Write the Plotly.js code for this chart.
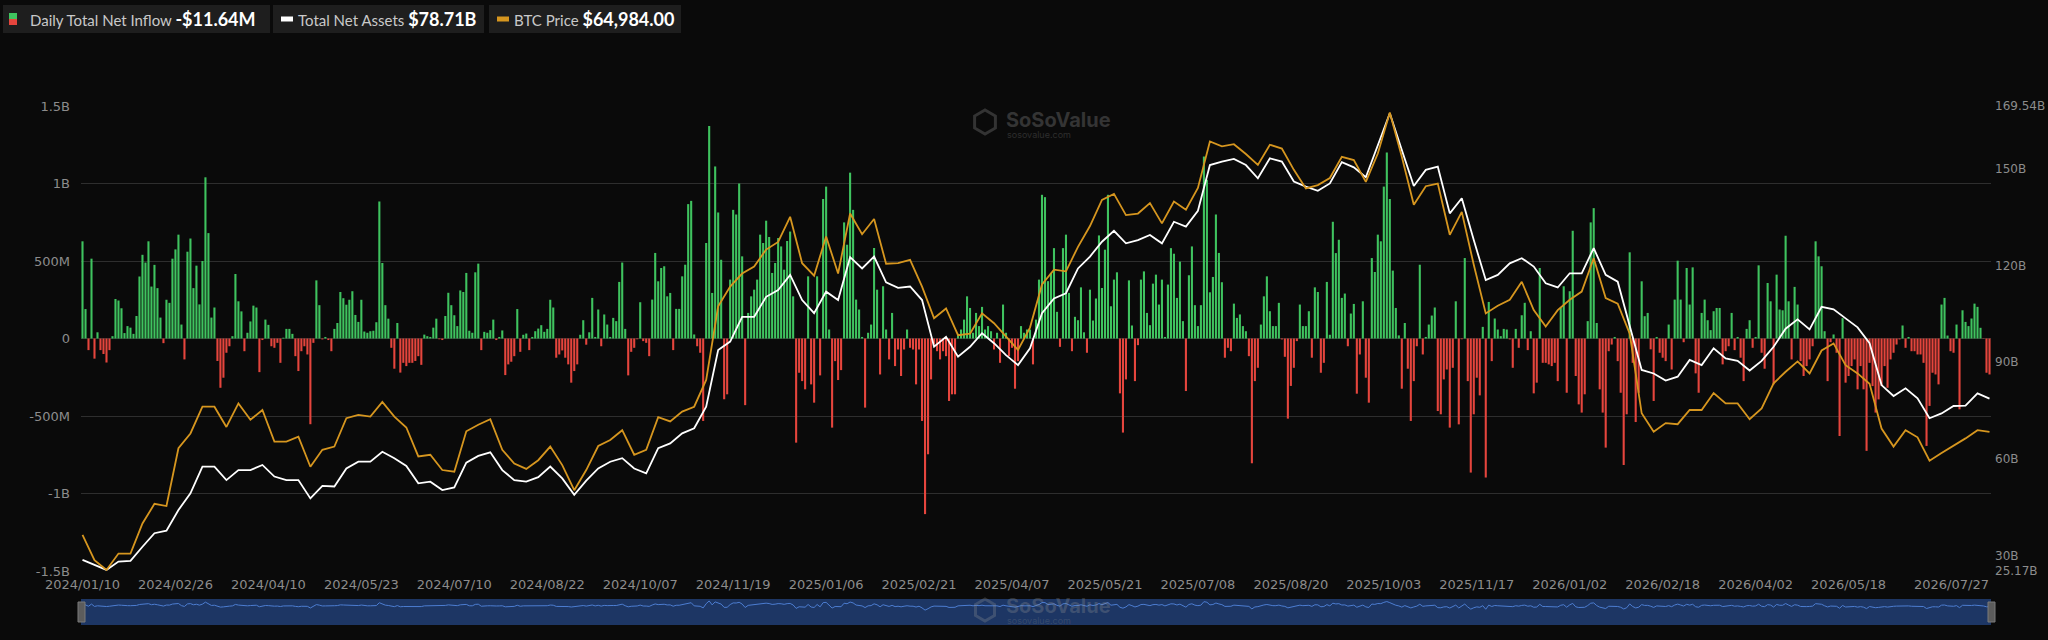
<!DOCTYPE html>
<html>
<head>
<meta charset="utf-8">
<script src="https://cdn.plot.ly/plotly-3.0.1.min.js"></script>
<style>
html,body{margin:0;padding:0;background:#0a0a0a;}
#chart{width:2048px;height:640px;}
</style>
</head>
<body>
<div id="chart"></div>
<script>
// ---------------- DATA ----------------
const firstDay = '2024/01/10';
const lastDay = '2026/07/27';
const marketHolidays = [
  '2024/01/15','2024/02/19','2024/03/29','2024/05/27','2024/06/19','2024/07/04','2024/09/02','2024/11/28','2024/12/25',
  '2025/01/01','2025/01/09','2025/01/20','2025/02/17','2025/04/18','2025/05/26','2025/06/19','2025/07/04','2025/09/01','2025/11/27','2025/12/25',
  '2026/01/01','2026/01/19','2026/02/16','2026/04/03','2026/05/25','2026/06/19','2026/07/03'
];
const tickLabels = ['2024/01/10','2024/02/26','2024/04/10','2024/05/23','2024/07/10','2024/08/22','2024/10/07','2024/11/19',
  '2025/01/06','2025/02/21','2025/04/07','2025/05/21','2025/07/08','2025/08/20','2025/10/03','2025/11/17',
  '2026/01/02','2026/02/18','2026/04/02','2026/05/18','2026/07/27'];

// Daily total net inflow, $M, one value per trading day
const inflow = [
627,190,-75,515,-130,40,-75,-100,-155,-75,
15,255,245,195,35,80,70,30,145,400,
540,490,627,335,475,325,135,-30,250,230,
515,575,670,90,-135,560,645,325,470,220,
500,1040,680,135,200,-145,-318,-253,-92,-50,
15,416,240,175,-82,37,110,212,200,-217,
-10,122,88,-50,-60,-28,-157,5,62,62,
30,-114,-210,-82,-50,-103,-553,-28,375,215,
-6,10,-10,-82,62,100,300,260,218,250,
305,152,107,250,45,37,47,50,105,884,
487,215,128,-60,-195,100,-220,-157,
-178,-157,-157,-145,-114,-170,25,15,10,70,
128,-5,-10,145,295,215,150,80,310,300,
423,50,37,427,483,-75,43,37,54,122,
-10,10,52,-236,-167,-150,-114,190,-86,24,
32,-75,10,47,64,86,43,62,250,200,
-124,-103,-77,-124,-167,-285,-210,-167,24,118,
-40,40,262,10,187,-50,155,90,10,133,
112,365,490,62,-238,-86,-60,-5,234,-17,
-28,-114,251,552,369,455,466,272,294,-75,
191,191,401,476,867,888,26,-50,-92,-532,
616,1371,294,1110,813,508,-392,-360,
380,830,800,1000,530,-430,165,272,315,380,
670,616,760,655,423,487,648,594,444,629,
690,272,-672,-221,-275,-328,401,-296,-414,401,
-238,900,980,58,-575,-146,-268,-204,749,605,
1070,830,251,187,10,-446,37,90,584,315,
-232,337,58,-135,165,-178,-71,-242,-71,58,
-60,-71,-296,-71,-532,-1133,-747,-264,-39,-82,
-135,-82,-114,-403,-360,-360,30,58,122,272,
197,37,165,80,204,58,80,47,-71,37,
-157,219,37,-114,-60,-324,-146,80,37,58,
58,-167,122,380,927,
912,370,423,583,172,-54,583,670,294,-82,
140,118,330,40,-92,315,116,258,665,326,
573,927,208,380,427,-354,-607,-264,375,84,
-275,-43,380,433,165,86,354,412,219,380,
10,348,583,547,262,496,112,-339,408,594,
215,80,215,1174,1024,298,397,800,552,363,
-124,-60,-82,225,133,155,80,47,-114,-805,
-275,-189,90,272,401,176,80,80,230,-6,
-118,-517,-306,-189,-17,219,80,80,176,-124,
330,300,-221,-157,365,24,753,551,637,262,
290,-50,161,223,-356,-103,240,
-253,-414,519,429,670,627,980,1200,900,438,
197,20,-324,100,-195,-532,-275,-50,476,-103,
10,90,148,200,-468,-489,-264,-200,-575,-189,
240,-554,-5,519,-275,-865,-489,-253,-367,75,
-897,236,-146,129,58,15,62,58,-6,-189,
62,-60,150,230,-75,47,-354,-285,455,-157,
-157,-167,-178,-157,-275,197,337,-350,305,695,
-242,-425,-478,-360,112,749,841,100,-328,-478,
-704,-82,-39,10,-146,-350,-816,-489,556,-157,
-539,-350,369,144,165,-70,-403,10,-92,-124,
-146,90,-200,251,502,251,
-24,455,219,459,-225,-350,165,251,118,54,
176,197,197,-167,-82,-50,165,-75,10,-124,
-275,62,118,-60,10,472,-92,-195,358,240,
-296,412,187,182,663,240,-135,333,219,-146,
-242,-178,-135,-50,627,530,466,47,-275,-24,
26,-92,-629,131,-285,-242,-178,-135,-328,-178,
-328,-725,-157,-307,-478,-393,-307,-178,-318,-135,
-92,-39,-6,84,-60,10,-82,-82,-103,-103,
-157,-693,-435,-221,-232,-296,219,262,19,-82,
-92,90,-457,182,107,80,129,225,204,69,
-2,-221,-232
];

// Total net assets, $B, every 4th trading day
const netAssets = [
28.6,27.0,25.5,28.1,28.3,32.7,36.9,37.7,44.1,49.3,
57.6,57.6,53.4,56.5,56.5,58.1,54.5,53.4,53.4,47.7,
51.6,51.4,57.0,59.1,59.1,62.2,60.2,57.8,52.4,52.9,
50.3,51.1,58.8,60.9,62.0,56.5,53.4,52.9,54.3,57.6,
53.9,48.8,53.2,57.0,59.1,60.2,57.0,55.5,63.3,64.8,
67.9,69.5,76.2,93.8,96.4,104.1,104.1,110.3,112.4,117.1,
109.3,105.2,111.9,109.3,122.6,119.1,122.8,114.8,113.1,113.5,
109.3,94.8,97.9,91.7,94.8,99.0,95.9,92.2,89.1,94.3,
105.2,109.8,111.4,119.1,122.8,127.4,130.8,126.9,127.9,129.5,
126.9,133.6,132.1,137.0,151.2,152.3,153.1,151.2,147.1,153.3,
152.3,146.1,144.5,143.2,145.5,152.1,150.5,147.4,157.4,167.3,
155.9,144.7,149.7,150.7,136.2,140.9,127.9,115.5,117.1,120.7,
122.3,119.7,114.5,113.2,117.6,117.6,125.4,117.1,115.0,101.0,
87.6,86.5,84.3,85.5,90.7,89.1,94.3,91.2,90.4,87.4,
90.4,94.8,100.4,103.3,100.2,107.2,106.4,103.6,100.8,95.9,
82.9,79.5,81.9,78.8,72.6,74.1,76.4,76.5,80.3,78.71
];

// BTC price, $, every 4th trading day
const btcPrice = [
46100,41500,39700,42700,42700,48200,51800,51400,62000,64700,
69600,69600,65900,70200,67200,69000,63200,63200,64100,58600,
61700,62300,67500,68100,67800,70500,67800,65800,60500,60800,
58000,57700,65100,66300,67300,61700,59200,58200,59800,62300,
58900,54300,58000,62400,63500,65300,60800,61700,67700,66900,
68700,69600,74500,88000,91600,94000,95300,98400,99800,104400,
95900,93600,100800,94000,105000,101200,104000,95800,95900,96500,
91600,85800,87600,82700,83000,86700,84900,82400,80000,84100,
92000,94700,94400,98900,102700,107500,108600,104700,105000,106900,
103200,107200,105700,109700,118200,117300,117700,115900,113900,117600,
116900,113000,109600,110200,111500,115400,114800,110800,116000,123500,
115400,106600,110000,110500,101100,105300,95600,86700,88100,89200,
92500,87300,84300,87300,89200,90700,96800,89500,88500,83000,
68400,65000,66600,66400,69000,69000,72100,70200,70200,67300,
69300,73900,76000,77900,75700,79900,81200,77200,75700,73800,
65600,62300,65300,64000,59700,61100,62400,63800,65300,64984
];

const leftTickVals = [-1500,-1000,-500,0,500,1000,1500];
const leftTickText = ['-1.5B','-1B','-500M','0','500M','1B','1.5B'];
const rightTickVals = [25.17,30,60,90,120,150,169.54];
const rightTickText = ['25.17B','30B','60B','90B','120B','150B','169.54B'];
const assetsRange = [25.17,169.54];
const btcRange = [39500,124700];

const legendInflowLabel = 'Daily Total Net Inflow', legendInflowValue = '-$11.64M';
const legendAssetsLabel = 'Total Net Assets', legendAssetsValue = '$78.71B';
const legendBtcLabel = 'BTC Price', legendBtcValue = '$64,984.00';

// ---------------- BUILD ----------------
function fmt(d){
  const m = String(d.getUTCMonth()+1).padStart(2,'0');
  const dd = String(d.getUTCDate()).padStart(2,'0');
  return d.getUTCFullYear()+'/'+m+'/'+dd;
}
function tradingDays(){
  const p = firstDay.split('/').map(Number), q = lastDay.split('/').map(Number);
  const d = new Date(Date.UTC(p[0],p[1]-1,p[2]));
  const end = Date.UTC(q[0],q[1]-1,q[2]);
  const out = [];
  while (d.getTime() <= end){
    const wd = d.getUTCDay(), s = fmt(d);
    if (wd !== 0 && wd !== 6 && marketHolidays.indexOf(s) < 0) out.push(s);
    d.setUTCDate(d.getUTCDate()+1);
  }
  return out;
}
const days = tradingDays();
const n = Math.min(days.length, inflow.length);
const barDays = days.slice(0, n);
const barVals = inflow.slice(0, n);
const lineDays = barDays.filter((_, i) => i % 4 === 0).slice(0, netAssets.length);

const GREEN = '#3fc35f', RED = '#e5453d', ORANGE = '#d6961f';
const W = 2048, H = 640, ML = 81, MR = 57, MT = 106, MB = 15;
const PW = W-ML-MR, PH = H-MT-MB;
const X = px => (px-ML)/PW;
const Y = py => (H-MB-py)/PH;
const plotRight = W-MR;

const traces = [
  {type:'bar', x:barDays, y:barVals, xaxis:'x', yaxis:'y',
   marker:{color:barVals.map(v => v >= 0 ? GREEN : RED), line:{width:0}}, hoverinfo:'skip'},
  {type:'scatter', mode:'lines', x:lineDays, y:netAssets, xaxis:'x', yaxis:'y2',
   line:{color:'#ffffff', width:1.8}, hoverinfo:'skip'},
  {type:'scatter', mode:'lines', x:lineDays, y:btcPrice, xaxis:'x', yaxis:'y3',
   line:{color:ORANGE, width:1.8}, hoverinfo:'skip'},
  {type:'scatter', mode:'lines', x:barDays, y:barVals, xaxis:'x2', yaxis:'y4',
   line:{color:'#4c7dd1', width:1}, hoverinfo:'skip'}
];

const tickFont = {family:'DejaVu Sans, sans-serif', size:13, color:'#8c8c8c'};
const rightFont = {family:'DejaVu Sans, sans-serif', size:12, color:'#8c8c8c'};

function hexPath(cx, cy, r){
  let s = '';
  for (let k=0;k<6;k++){
    const a = Math.PI/6 + k*Math.PI/3;
    s += (k? ' L ':'M ') + X(cx + r*Math.cos(a)) + ',' + Y(cy + r*Math.sin(a));
  }
  return s + ' Z';
}

const shapes = [
  // navigator
  {type:'rect', xref:'paper', yref:'paper', x0:0, x1:1, y0:Y(625), y1:Y(599),
   fillcolor:'#1d3664', line:{width:0}, layer:'below'},
  {type:'rect', xref:'paper', yref:'paper', x0:X(78), x1:X(85), y0:Y(622), y1:Y(602),
   fillcolor:'#5c5c5c', line:{color:'#7a7a7a', width:1}},
  {type:'rect', xref:'paper', yref:'paper', x0:X(plotRight-3), x1:X(plotRight+4), y0:Y(622), y1:Y(602),
   fillcolor:'#5c5c5c', line:{color:'#7a7a7a', width:1}},
  // legend pills
  {type:'rect', xref:'paper', yref:'paper', x0:X(3), x1:X(270), y0:Y(33), y1:Y(5), fillcolor:'#1e1e1e', line:{width:0}},
  {type:'rect', xref:'paper', yref:'paper', x0:X(273), x1:X(484), y0:Y(33), y1:Y(5), fillcolor:'#1e1e1e', line:{width:0}},
  {type:'rect', xref:'paper', yref:'paper', x0:X(489), x1:X(681), y0:Y(33), y1:Y(5), fillcolor:'#1e1e1e', line:{width:0}},
  {type:'rect', xref:'paper', yref:'paper', x0:X(9), x1:X(17), y0:Y(19), y1:Y(13), fillcolor:GREEN, line:{width:0}},
  {type:'rect', xref:'paper', yref:'paper', x0:X(9), x1:X(17), y0:Y(25), y1:Y(19), fillcolor:RED, line:{width:0}},
  {type:'rect', xref:'paper', yref:'paper', x0:X(281), x1:X(293), y0:Y(21.5), y1:Y(16.5), fillcolor:'#ffffff', line:{width:0}},
  {type:'rect', xref:'paper', yref:'paper', x0:X(497), x1:X(509), y0:Y(21.5), y1:Y(16.5), fillcolor:ORANGE, line:{width:0}},
  // watermark logos
  {type:'path', xref:'paper', yref:'paper', path:hexPath(985,122,12), line:{color:'#333333', width:3}, layer:'below'},
  {type:'path', xref:'paper', yref:'paper', path:hexPath(985,610,11), line:{color:'rgba(150,150,150,0.28)', width:3}}
];

const legendFont = {family:'Lato, sans-serif', size:15, color:'#c9c9c9'};
function pillText(label, value){
  return label + ' <span style="font-size:18px;color:#ffffff"><b>' + value + '</b></span>';
}
const annotations = [
  {xref:'paper', yref:'paper', x:X(28), y:Y(19.5), xanchor:'left', yanchor:'middle', showarrow:false,
   text:pillText(legendInflowLabel, legendInflowValue), font:legendFont},
  {xref:'paper', yref:'paper', x:X(296), y:Y(19.5), xanchor:'left', yanchor:'middle', showarrow:false,
   text:pillText(legendAssetsLabel, legendAssetsValue), font:legendFont},
  {xref:'paper', yref:'paper', x:X(512), y:Y(19.5), xanchor:'left', yanchor:'middle', showarrow:false,
   text:pillText(legendBtcLabel, legendBtcValue), font:legendFont},
  {xref:'paper', yref:'paper', x:X(1004), y:Y(120), xanchor:'left', yanchor:'middle', showarrow:false,
   text:'<b>SoSoValue</b>', font:{family:'Inter, sans-serif', size:20, color:'#343434'}},
  {xref:'paper', yref:'paper', x:X(1005), y:Y(134), xanchor:'left', yanchor:'middle', showarrow:false,
   text:'sosovalue.com', font:{family:'Inter, sans-serif', size:9, color:'#2e2e2e'}},
  {xref:'paper', yref:'paper', x:X(1004), y:Y(606), xanchor:'left', yanchor:'middle', showarrow:false,
   text:'<b>SoSoValue</b>', font:{family:'Inter, sans-serif', size:20, color:'rgba(150,150,150,0.28)'}},
  {xref:'paper', yref:'paper', x:X(1005), y:Y(620), xanchor:'left', yanchor:'middle', showarrow:false,
   text:'sosovalue.com', font:{family:'Inter, sans-serif', size:9, color:'rgba(150,150,150,0.22)'}},
  // final date label, right-aligned to the plot edge as in the reference
  {xref:'paper', yref:'paper', x:1, y:Y(584), xanchor:'right', yanchor:'middle', showarrow:false,
   text:tickLabels[tickLabels.length-1], font:tickFont}
];

const layout = {
  width:W, height:H,
  margin:{l:ML, r:MR, t:MT, b:MB, pad:0},
  paper_bgcolor:'#0a0a0a', plot_bgcolor:'#0a0a0a',
  showlegend:false, hovermode:false, bargap:0.3,
  font:{family:'DejaVu Sans, sans-serif', color:'#8c8c8c'},
  xaxis:{type:'category', domain:[0,1], anchor:'y', range:[-0.5, n-0.5],
    tickmode:'array', tickvals:tickLabels.slice(0,-1), ticktext:tickLabels.slice(0,-1), tickangle:0,
    tickfont:tickFont, showgrid:false, zeroline:false, showline:false, ticks:'', ticklabelstandoff:4},
  yaxis:{domain:[Y(571),1], range:[-1500,1500], tickmode:'array', tickvals:leftTickVals, ticktext:leftTickText,
    tickfont:tickFont, gridcolor:'#2e2e2e', gridwidth:1, zeroline:false, showline:false, ticks:'', ticklabelstandoff:10},
  yaxis2:{overlaying:'y', side:'right', range:assetsRange, tickmode:'array', tickvals:rightTickVals, ticktext:rightTickText,
    tickfont:rightFont, showgrid:false, zeroline:false, showline:false, ticks:'', ticklabelstandoff:3},
  yaxis3:{overlaying:'y', range:btcRange, visible:false, showgrid:false, zeroline:false},
  xaxis2:{type:'category', domain:[0,1], anchor:'y4', range:[-0.5, n-0.5], visible:false, showgrid:false},
  yaxis4:{domain:[0, Y(599)], range:[-5200,1900], visible:false, showgrid:false, zeroline:false},
  shapes:shapes, annotations:annotations
};

Plotly.newPlot('chart', traces, layout, {displayModeBar:false, staticPlot:true});
</script>
</body>
</html>
